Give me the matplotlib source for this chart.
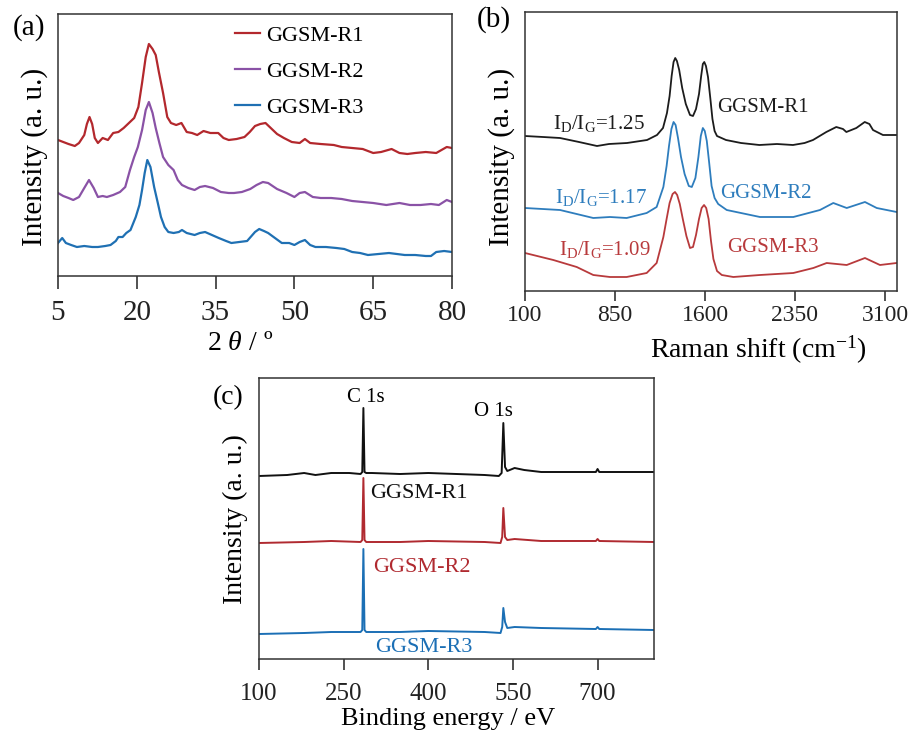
import matplotlib
matplotlib.use("Agg")
import matplotlib.pyplot as plt

plt.rcParams['font.family'] = ['Liberation Serif', 'DejaVu Serif']
plt.rcParams['mathtext.fontset'] = 'custom'
plt.rcParams['mathtext.rm'] = 'Liberation Serif'
plt.rcParams['mathtext.it'] = 'Liberation Serif:italic'

W, H = 914, 735

# ---------------- (a) XRD ----------------
xrd_r1_x = [5, 6, 7, 8.2, 9, 10, 10.5, 11, 11.5, 12, 12.6, 13.5, 14.5, 15.5, 16.5, 17.5, 18.5, 19.5,
            20.3, 21, 21.7, 22.3, 23, 23.6, 24.2, 25, 25.8, 26.5, 27.5, 28.5, 29.5, 30.5, 31.5,
            32.7, 34, 35.5, 36.5, 37.5, 39, 40.5, 41.5, 42.5, 43.5, 44.5, 45.5, 46.7, 48, 49.5,
            51, 52, 53, 55, 57.5, 59, 61, 63, 65, 66.5, 68.5, 70, 71.5, 73, 75, 77, 78, 79, 80]
xrd_r1_y = [136, 134, 132, 130, 133, 141, 152, 159, 152, 138, 133, 138, 136, 143, 144, 148, 153, 158,
            169, 193, 219, 232, 227, 221, 204, 183, 159, 153, 151, 153, 144, 143, 141,
            145, 143, 143, 138, 136, 137, 139, 144, 150, 152, 153, 148, 142, 138, 134,
            133, 137, 133, 132, 131, 129, 128, 127, 123, 124, 127, 123, 122, 123, 124, 123, 126, 129, 128]

xrd_r2_x = [5, 6, 7, 7.9, 9, 10, 10.9, 11.8, 12.6, 13.5, 14.3, 15.5, 16.8, 17.8, 18.7, 19.5, 20.2,
            21, 21.7, 22.3, 23, 23.6, 24.3, 25, 26, 27, 27.8, 28.6, 29.8, 31, 32, 33, 34.5, 36,
            37.5, 38.5, 40, 41.6, 42.8, 44, 45, 46.7, 48.5, 50, 51, 52, 53.5, 55, 57, 59, 61, 63,
            65, 67.5, 70, 72, 74, 76, 77.5, 79, 80]
xrd_r2_y = [83, 80, 78, 76, 79, 88, 96, 88, 79, 80, 79, 81, 84, 89, 106, 119, 129,
            146, 166, 174, 163, 148, 133, 119, 111, 106, 96, 91, 88, 86, 89, 90, 88, 84,
            83, 83, 84, 87, 91, 94, 93, 87, 83, 79, 83, 84, 79, 78, 78, 77, 75, 74,
            73, 71, 73, 71, 71, 72, 71, 76, 74]

xrd_r3_x = [5, 5.8, 6.5, 7.5, 8.6, 10, 11.5, 12.6, 14, 15, 16, 16.5, 17.3, 18, 18.8, 19.8, 20.5,
            21, 21.5, 22, 22.6, 23.3, 24, 24.6, 25.3, 26, 27, 28, 28.6, 29.5, 31, 32, 33, 34.3,
            35.6, 37, 38, 39.5, 41, 41.5, 42.5, 43.3, 44.2, 45, 46.3, 47.6, 49, 50, 51, 52, 53,
            54, 56, 58, 59.5, 61, 62.5, 64, 66, 68, 71, 73, 75, 76, 77, 78.5, 80]
xrd_r3_y = [33, 38, 33, 31, 29, 30, 29, 29, 30, 31, 35, 39, 39, 43, 46, 59, 71,
            86, 103, 116, 109, 89, 73, 59, 49, 44, 43, 44, 46, 43, 41, 43, 44, 41,
            38, 35, 33, 34, 35, 38, 44, 47, 45, 43, 38, 33, 33, 31, 34, 36, 31,
            29, 29, 28, 27, 24, 23, 21, 22, 23, 21, 21, 20, 20, 24, 25, 24]

# ---------------- (b) Raman ----------------
ram_r1_x = [100, 250, 392, 550, 700, 800, 950, 1117, 1200, 1250, 1283, 1305, 1322, 1338, 1352,
            1366, 1385, 1410, 1440, 1475, 1500, 1525, 1550, 1568, 1582, 1594, 1608, 1625, 1645,
            1662, 1680, 1700, 1775, 1900, 2053, 2200, 2333, 2430, 2500, 2611, 2694, 2750, 2778,
            2861, 2931, 2970, 3000, 3083, 3200]
ram_r1_y = [155, 154, 153, 149, 145, 147, 148, 151, 156, 163, 178, 195, 215, 229, 233,
            230, 221, 203, 187, 176, 175, 182, 197, 215, 227, 229, 225, 214, 192,
            172, 160, 155, 151, 148, 146, 147, 146, 148, 151, 159, 164, 162, 159,
            163, 169, 167, 161, 156, 156]

ram_r2_x = [100, 392, 669, 808, 947, 1114, 1197, 1253, 1280, 1300, 1320, 1338, 1355, 1375, 1400,
            1430, 1465, 1490, 1520, 1545, 1565, 1582, 1598, 1615, 1635, 1655, 1680, 1710, 1781,
            2058, 2336, 2558, 2669, 2781, 2933, 3031, 3197]
ram_r2_y = [83, 81, 73, 74, 73, 78, 84, 104, 125, 145, 162, 169, 166, 153, 134,
            117, 105, 104, 113, 134, 155, 163, 160, 150, 128, 105, 93, 87, 81,
            74, 74, 81, 88, 83, 89, 83, 79]

ram_r3_x = [100, 336, 531, 669, 808, 947, 1114, 1197, 1253, 1280, 1305, 1330, 1350, 1368, 1390,
            1415, 1445, 1475, 1500, 1525, 1550, 1572, 1592, 1610, 1630, 1650, 1670, 1700, 1740,
            1836, 2058, 2336, 2503, 2614, 2781, 2933, 3058, 3197]
ram_r3_y = [38, 31, 24, 16, 14, 14, 18, 28, 54, 72, 88, 97, 99, 96, 87,
            72, 55, 43, 44, 56, 72, 83, 86, 83, 72, 50, 32, 20, 16,
            14, 16, 18, 23, 28, 26, 33, 26, 28]

ram_ratio = ['1.25', '1.17', '1.09']

# ---------------- (c) XPS ----------------
xps_r1_x = [100, 150, 180, 200, 228, 260, 280, 283, 285, 287, 290, 300, 350, 400, 450, 500, 525,
            530, 533, 536, 540, 553, 570, 600, 650, 697, 700, 703, 750, 800]
xps_r1_y = [183, 184, 186, 184, 186, 186, 185, 187, 251, 187, 186, 186, 185, 186, 185, 184, 183,
            186, 236, 192, 188, 191, 189, 187, 187, 187, 190, 187, 187, 187]

xps_r2_x = [100, 180, 228, 280, 283, 285, 287, 290, 350, 400, 500, 528, 531, 533, 536, 540, 553,
            600, 697, 700, 703, 800]
xps_r2_y = [116, 117, 118, 117, 119, 181, 119, 117, 117, 118, 117, 116, 122, 151, 122, 119, 120,
            118, 118, 120, 118, 117]

xps_r3_x = [100, 180, 228, 280, 283, 285, 287, 290, 350, 400, 500, 528, 531, 533, 536, 540, 553,
            600, 697, 700, 703, 800]
xps_r3_y = [25, 26, 27, 27, 29, 110, 29, 27, 27, 28, 27, 26, 32, 51, 37, 31, 32,
            31, 30, 32, 30, 29]

labels = ['GGSM-R1', 'GGSM-R2', 'GGSM-R3']


def px_axes(fig, l, t, r, b):
    return fig.add_axes([l / W, 1 - b / H, (r - l) / W, (b - t) / H])


def style(ax, size, pad, length):
    for s in ax.spines.values():
        s.set_color('#333333')
        s.set_linewidth(1.1)
    ax.set_yticks([])
    ax.tick_params(axis='x', direction='out', length=length, width=1.1,
                   labelsize=size, pad=pad, colors='#222222')


def ftext(fig, x, y, s, **kw):
    fig.text(x / W, 1 - y / H, s, **kw)


fig = plt.figure(figsize=(W / 100, H / 100), dpi=100)

# (a)
ax1 = px_axes(fig, 58, 14, 452, 276)
c_a = ['#b3282d', '#8a52a6', '#1f70b3']
ax1.plot(xrd_r1_x, xrd_r1_y, color=c_a[0], lw=1.6, label=labels[0])
ax1.plot(xrd_r2_x, xrd_r2_y, color=c_a[1], lw=1.6, label=labels[1])
ax1.plot(xrd_r3_x, xrd_r3_y, color=c_a[2], lw=1.6, label=labels[2])
ax1.set_xlim(5, 80)
ax1.set_ylim(0, 262)
ax1.set_xticks([5, 20, 35, 50, 65, 80])
style(ax1, 21, 8, 9)
ax1.legend(loc='upper left', bbox_to_anchor=(0.405, 1.025), frameon=False, fontsize=16,
           handlelength=1.1, handletextpad=0.3, labelspacing=0.7, borderpad=0.3)
ftext(fig, 240, 343, r'2 $\theta$ / º', fontsize=20, ha='center', va='center')
ftext(fig, 35, 157, 'Intensity (a. u.)', fontsize=21, rotation=90, ha='center', va='center')
ftext(fig, 13, 28, '(a)', fontsize=21, ha='left', va='center')

# (b)
ax2 = px_axes(fig, 525, 12, 897, 291)
c_b = ['#1c1c1c', '#2e7dbd', '#b83a3c']
ax2.plot(ram_r1_x, ram_r1_y, color=c_b[0], lw=1.3)
ax2.plot(ram_r2_x, ram_r2_y, color=c_b[1], lw=1.3)
ax2.plot(ram_r3_x, ram_r3_y, color=c_b[2], lw=1.3)
ax2.set_xlim(100, 3200)
ax2.set_ylim(0, 279)
ax2.set_xticks([100, 850, 1600, 2350, 3100])
style(ax2, 17, 3, 7)
ratio_pos = [(1100, 168), (1117, 94), (1142, 41)]
name_pos = [(1700, 183), (1725, 98), (1783, 44)]
for i in range(3):
    ax2.text(ratio_pos[i][0], ratio_pos[i][1],
             r'I$_\mathrm{D}$/I$_\mathrm{G}$=' + ram_ratio[i],
             color=c_b[i], fontsize=15, ha='right', va='center')
    ax2.text(name_pos[i][0], name_pos[i][1], labels[i], color=c_b[i], fontsize=15,
             ha='left', va='center')
ftext(fig, 758, 350, r'Raman shift (cm$^{-1}$)', fontsize=20, ha='center', va='center')
ftext(fig, 502, 157, 'Intensity (a. u.)', fontsize=21, rotation=90, ha='center', va='center')
ftext(fig, 477, 20, '(b)', fontsize=21, ha='left', va='center')

# (c)
ax3 = px_axes(fig, 259, 378, 654, 659)
c_c = ['#111111', '#b02a30', '#1b6fb5']
ax3.plot(xps_r1_x, xps_r1_y, color=c_c[0], lw=1.4)
ax3.plot(xps_r2_x, xps_r2_y, color=c_c[1], lw=1.4)
ax3.plot(xps_r3_x, xps_r3_y, color=c_c[2], lw=1.4)
ax3.set_xlim(100, 800)
ax3.set_ylim(0, 281)
ax3.set_xticks([100, 250, 400, 550, 700])
style(ax3, 18, 9, 8)
ax3.text(290, 262, 'C 1s', fontsize=15, ha='center', va='center')
ax3.text(515, 247, 'O 1s', fontsize=15, ha='center', va='center')
xps_name_pos = [(297, 166), (302, 91), (306, 12)]
for i in range(3):
    ax3.text(xps_name_pos[i][0], xps_name_pos[i][1], labels[i], color=c_c[i], fontsize=16,
             ha='left', va='center')
ftext(fig, 448, 719, 'Binding energy / eV', fontsize=19, ha='center', va='center')
ftext(fig, 235, 519, 'Intensity (a. u.)', fontsize=20, rotation=90, ha='center', va='center')
ftext(fig, 213, 398, '(c)', fontsize=20, ha='left', va='center')

fig.savefig('out.png', dpi=100)
